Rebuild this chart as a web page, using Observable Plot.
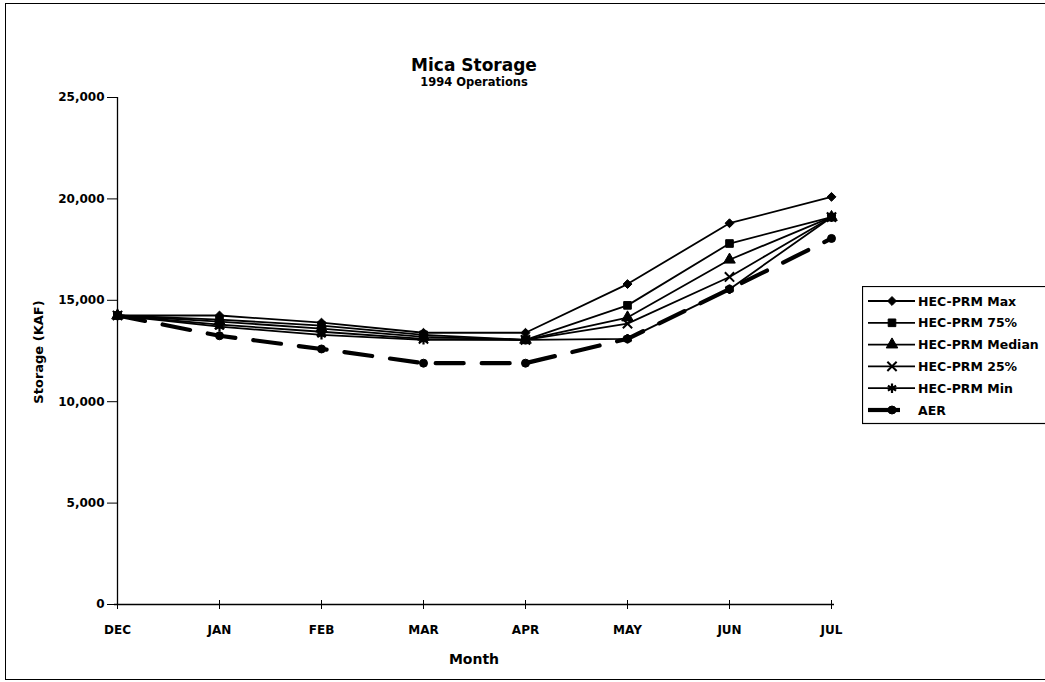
<!DOCTYPE html>
<html><head><meta charset="utf-8">
<script src="https://cdn.jsdelivr.net/npm/d3@7"></script>
<script src="https://cdn.jsdelivr.net/npm/@observablehq/plot@0.6"></script>
<style>
body{margin:0;background:#fff;font-family:"DejaVu Sans",sans-serif;}
#wrap{position:relative;width:1045px;height:682px;overflow:hidden;background:#fff;}
#chart{position:absolute;left:0;top:0;}
.frame{position:absolute;left:5px;top:3px;width:1060px;height:677px;border:1px solid #000;box-sizing:border-box;}
.title{position:absolute;left:0;width:948px;text-align:center;font-weight:bold;color:#000;white-space:nowrap;}
.ylab{position:absolute;left:38px;top:352px;transform:translate(-50%,-50%) rotate(-90deg);font-weight:bold;font-size:13px;white-space:nowrap;}
.xlab{position:absolute;left:0;width:948px;top:651px;text-align:center;font-weight:bold;font-size:14px;}
#legend{position:absolute;left:862px;top:286px;}
</style></head>
<body>
<div id="wrap">
  <div class="frame"></div>
  <div id="chart"></div>
  <div class="title" style="top:55px;font-size:17px;">Mica Storage</div>
  <div class="title" style="top:75px;font-size:11.5px;">1994 Operations</div>
  <div class="ylab">Storage (KAF)</div>
  <div class="xlab">Month</div>
  <div id="legend"></div>
</div>
<script>
const months = ["DEC","JAN","FEB","MAR","APR","MAY","JUN","JUL"];
const hecMax    = [14250,14250,13900,13400,13400,15800,18800,20100];
const hec75     = [14250,14050,13750,13300,13050,14750,17800,19100];
const hecMedian = [14250,13950,13600,13200,13050,14150,17000,19100];
const hec25     = [14250,13800,13450,13100,13050,13850,16150,19100];
const hecMin    = [14250,13700,13300,13050,13050,13100,15550,19100];
const aer       = [14250,13250,12600,11900,11900,13100,15550,18050];
const seriesNames = ["HEC-PRM Max","HEC-PRM 75%","HEC-PRM Median","HEC-PRM 25%","HEC-PRM Min","AER"];
const yTicks = [0,5000,10000,15000,20000,25000];

const seriesValues = [hecMax, hec75, hecMedian, hec25, hecMin, aer];
const styles = [
  {symbol:"diamond2", fill:"black", stroke:"black", sw:1, r:4},
  {symbol:"square", fill:"black", stroke:"black", sw:1, r:4.3},
  {symbol:"triangle", fill:"black", stroke:"black", sw:1, r:4.3},
  {symbol:"times", fill:"none", stroke:"black", sw:2, r:4.3},
  {symbol:"asterisk", fill:"none", stroke:"black", sw:2.2, r:4.5},
  {symbol:"circle", fill:"black", stroke:"black", sw:1, r:4}
];
const rows = [];
seriesNames.forEach((s,i)=>months.forEach((m,j)=>rows.push({series:s, month:m, value:seriesValues[i][j]})));
const solidRows = rows.filter(d=>d.series!=="AER");
const aerRows = rows.filter(d=>d.series==="AER");

const marks = [
  Plot.ruleY([0], {stroke:"black", strokeWidth:1.3}),
  Plot.ruleX([months[0]], {stroke:"black", strokeWidth:1.3}),
  Plot.axisY({ticks:yTicks, tickFormat:d3.format(","), tickSize:6, tickPadding:4, label:null}),
  Plot.axisX({tickSize:6, tickPadding:15, label:null}),
  Plot.line(solidRows, {x:"month", y:"value", z:"series", stroke:"black", strokeWidth:1.8}),
  Plot.line(aerRows, {x:"month", y:"value", stroke:"black", strokeWidth:4.2, strokeDasharray:"28,18"})
];
seriesNames.forEach((s,i)=>{
  const st = styles[i];
  marks.push(Plot.dot(rows.filter(d=>d.series===s), {x:"month", y:"value", symbol:()=>st.symbol, r:st.r, fill:st.fill, stroke:st.stroke, strokeWidth:st.sw}));
});

const chart = Plot.plot({
  width:1045, height:682,
  marginLeft:114, marginRight:211, marginTop:97, marginBottom:78,
  style:{fontFamily:"DejaVu Sans", fontSize:"12px", fontWeight:"bold", color:"black", background:"transparent"},
  x:{type:"point", domain:months, padding:0},
  y:{domain:[0,25000]},
  symbol:{type:"identity"},
  marks
});
chart.querySelectorAll('[aria-label="y-axis tick"] path').forEach(p=>p.setAttribute("d","M-7,0L4,0"));
chart.querySelectorAll('[aria-label="x-axis tick"] path').forEach(p=>p.setAttribute("d","M0,-4L0,5"));
document.getElementById("chart").appendChild(chart);

// legend
const symMap = {diamond2:d3.symbolDiamond2, square:d3.symbolSquare, triangle:d3.symbolTriangle, times:d3.symbolTimes, asterisk:d3.symbolAsterisk, circle:d3.symbolCircle};
const lg = d3.select("#legend").append("svg").attr("width",190).attr("height",142);
lg.append("rect").attr("x",0.5).attr("y",0.5).attr("width",200).attr("height",137).attr("fill","white").attr("stroke","black").attr("stroke-width",1.2);
seriesNames.forEach((s,i)=>{
  const st = styles[i];
  const y = 15 + i*21.8;
  const g = lg.append("g");
  g.append("line").attr("x1",6).attr("x2",i===5?38:53).attr("y1",y).attr("y2",y).attr("stroke","black").attr("stroke-width",i===5?4.2:1.8);
  g.append("path").attr("transform",`translate(30,${y})`).attr("d",d3.symbol(symMap[st.symbol], Math.PI*st.r*st.r)()).attr("fill",st.fill).attr("stroke",st.stroke).attr("stroke-width",st.sw);
  g.append("text").attr("x",56).attr("y",y).attr("dy","0.36em").attr("font-family","DejaVu Sans").attr("font-weight","bold").attr("font-size",12.5).text(s);
});
</script>
</body></html>
